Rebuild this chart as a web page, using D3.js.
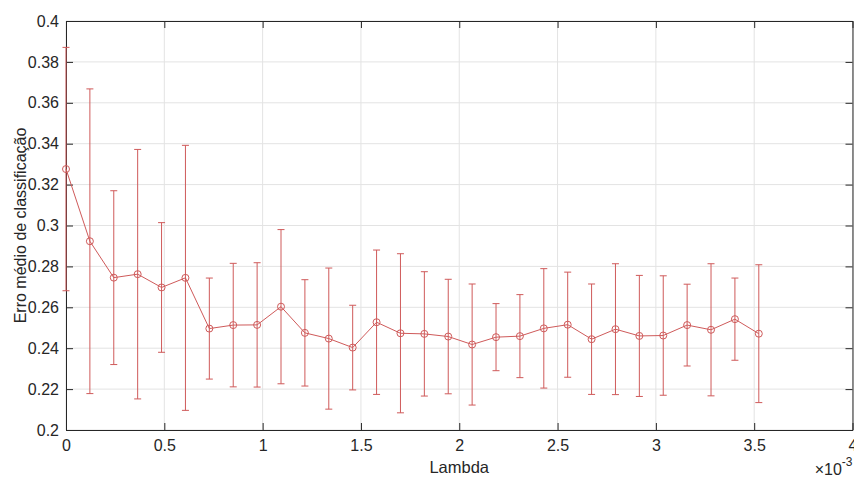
<!DOCTYPE html>
<html>
<head>
<meta charset="utf-8">
<script src="https://cdn.jsdelivr.net/npm/d3@7"></script>
<style>
  html, body { margin: 0; padding: 0; background: #fff; }
  svg { display: block; }
  text { font-family: Arial, "Liberation Sans", Helvetica, sans-serif; }
</style>
</head>
<body>
<svg id="chart" width="854" height="478"></svg>
<script>
// ---- data ----
const lambda = [0, 1.215e-4, 2.43e-4, 3.645e-4, 4.86e-4, 6.075e-4, 7.29e-4, 8.505e-4, 9.72e-4, 1.0935e-3,
  1.215e-3, 1.3365e-3, 1.458e-3, 1.5795e-3, 1.701e-3, 1.8225e-3, 1.944e-3, 2.0655e-3, 2.187e-3, 2.3085e-3,
  2.43e-3, 2.5515e-3, 2.673e-3, 2.7945e-3, 2.916e-3, 3.0375e-3, 3.159e-3, 3.2805e-3, 3.402e-3, 3.5235e-3];
const meanError = [0.3276, 0.2923, 0.2745, 0.2762, 0.2697, 0.2744, 0.2496, 0.2513, 0.2514, 0.2603,
  0.2475, 0.2447, 0.2403, 0.2527, 0.2473, 0.2470, 0.2457, 0.2418, 0.2454, 0.2459,
  0.2497, 0.2515, 0.2444, 0.2493, 0.2460, 0.2462, 0.2513, 0.2490, 0.2542, 0.2471];
const stdError = [0.0595, 0.0745, 0.0425, 0.0610, 0.0317, 0.0648, 0.0247, 0.0302, 0.0304, 0.0377,
  0.0260, 0.0345, 0.0207, 0.0353, 0.0389, 0.0304, 0.0280, 0.0296, 0.0164, 0.0203,
  0.0292, 0.0257, 0.0270, 0.0320, 0.0296, 0.0292, 0.0200, 0.0323, 0.0201, 0.0337];
const xTicks = [0, 0.0005, 0.001, 0.0015, 0.002, 0.0025, 0.003, 0.0035, 0.004];
const xTickLabels = ["0", "0.5", "1", "1.5", "2", "2.5", "3", "3.5", "4"];
const yTicks = [0.2, 0.22, 0.24, 0.26, 0.28, 0.3, 0.32, 0.34, 0.36, 0.38, 0.4];
const yTickLabels = ["0.2", "0.22", "0.24", "0.26", "0.28", "0.3", "0.32", "0.34", "0.36", "0.38", "0.4"];
const xLabel = "Lambda";
const yLabel = "Erro médio de classificação";

// ---- layout ----
const svg = d3.select("#chart");
const L = 66, R = 852.5, T = 21, B = 430;
const x = d3.scaleLinear().domain([0, 0.004]).range([L, R]);
const y = d3.scaleLinear().domain([0.2, 0.4]).range([B, T]);
const axisColor = "#262626";
const gridColor = "#e3e3e3";
const red = "#cf5a5a";

svg.append("rect").attr("width", 854).attr("height", 478).attr("fill", "#fff");

// grid
const grid = svg.append("g");
grid.selectAll("line.gx").data(xTicks).join("line")
  .attr("x1", d => x(d)).attr("x2", d => x(d)).attr("y1", T).attr("y2", B)
  .attr("stroke", gridColor).attr("stroke-width", 1);
grid.selectAll("line.gy").data(yTicks).join("line")
  .attr("y1", d => y(d)).attr("y2", d => y(d)).attr("x1", L).attr("x2", R)
  .attr("stroke", gridColor).attr("stroke-width", 1);

// axes
function styleAxis(g, labels) {
  g.select(".domain").attr("stroke", axisColor).attr("stroke-width", 1);
  g.selectAll(".tick line").attr("stroke", axisColor).attr("stroke-width", 1);
  g.selectAll(".tick text").attr("fill", axisColor).attr("font-size", 16);
  if (!labels) g.selectAll(".tick text").remove();
}
const xb = svg.append("g").attr("transform", `translate(0,${B})`)
  .call(d3.axisBottom(x).tickValues(xTicks).tickFormat((d, i) => xTickLabels[i]).tickSizeInner(-7).tickSizeOuter(0).tickPadding(18));
styleAxis(xb, true);
xb.selectAll(".tick text").attr("dy", "0.2em");
const xt = svg.append("g").attr("transform", `translate(0,${T})`)
  .call(d3.axisTop(x).tickValues(xTicks).tickSizeInner(-7).tickSizeOuter(0));
styleAxis(xt, false);
const yl = svg.append("g").attr("transform", `translate(${L},0)`)
  .call(d3.axisLeft(y).tickValues(yTicks).tickFormat((d, i) => yTickLabels[i]).tickSizeInner(-7).tickSizeOuter(0).tickPadding(7));
styleAxis(yl, true);
const yr = svg.append("g").attr("transform", `translate(${R},0)`)
  .call(d3.axisRight(y).tickValues(yTicks).tickSizeInner(-7).tickSizeOuter(0));
styleAxis(yr, false);

// error bars
const pts = lambda.map((l, i) => ({ x: l, m: meanError[i], s: stdError[i] }));
const eb = svg.append("g").attr("stroke", red).attr("stroke-width", 1).attr("fill", "none");
eb.selectAll("line.v").data(pts).join("line")
  .attr("x1", d => x(d.x)).attr("x2", d => x(d.x))
  .attr("y1", d => y(d.m - d.s)).attr("y2", d => y(d.m + d.s));
eb.selectAll("line.ct").data(pts).join("line")
  .attr("x1", d => x(d.x) - 3.5).attr("x2", d => x(d.x) + 3.5)
  .attr("y1", d => y(d.m + d.s)).attr("y2", d => y(d.m + d.s));
eb.selectAll("line.cb").data(pts).join("line")
  .attr("x1", d => x(d.x) - 3.5).attr("x2", d => x(d.x) + 3.5)
  .attr("y1", d => y(d.m - d.s)).attr("y2", d => y(d.m - d.s));

// mean line
const line = d3.line().x(d => x(d.x)).y(d => y(d.m));
svg.append("path").datum(pts).attr("d", line)
  .attr("fill", "none").attr("stroke", red).attr("stroke-width", 1);
svg.append("g").selectAll("circle").data(pts).join("circle")
  .attr("cx", d => x(d.x)).attr("cy", d => y(d.m)).attr("r", 3.5)
  .attr("fill", "none").attr("stroke", red).attr("stroke-width", 1);

// labels
svg.append("text").attr("x", (L + R) / 2).attr("y", 473).attr("text-anchor", "middle")
  .attr("font-size", 16.5).attr("fill", axisColor).text(xLabel);
svg.append("text").attr("transform", `translate(26,${(T + B) / 2}) rotate(-90)`)
  .attr("text-anchor", "middle").attr("font-size", 16).attr("fill", axisColor).text(yLabel);
const exp = svg.append("text").attr("x", R).attr("y", 475).attr("text-anchor", "end")
  .attr("font-size", 16).attr("fill", axisColor);
exp.append("tspan").text("\u00d710");
exp.append("tspan").attr("dy", -9).attr("font-size", 12).text("-3");
</script>
</body>
</html>
